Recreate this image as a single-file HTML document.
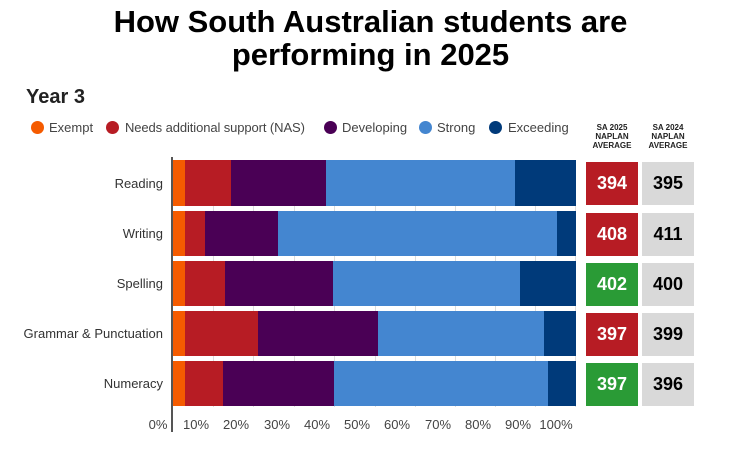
<!DOCTYPE html><html><head><style>
body{margin:0;width:741px;height:450px;background:#fff;font-family:"Liberation Sans",sans-serif;position:relative;overflow:hidden}
.a{position:absolute}
.t{left:0;width:741px;text-align:center;font-weight:bold;font-size:31px;color:#000;line-height:34px}
.lg{top:120px;font-size:13px;color:#444;white-space:nowrap}
.dot{top:121px;width:13px;height:13px;border-radius:50%}
.lab{right:578px;font-size:13px;color:#333;text-align:right}
.seg{position:absolute;top:0;height:100%}
.bx{width:52px;height:43px;font-weight:bold;font-size:18px;display:flex;align-items:center;justify-content:center}
.hd{font-size:8px;font-weight:bold;text-align:center;line-height:9px;color:#222;width:56px}
.tk{top:417px;font-size:13px;color:#444;width:40px;text-align:center}
.g{top:160px;height:247px;width:1px;background:#ddd}
</style></head><body>
<div class="a t" style="top:5px">How South Australian students are</div>
<div class="a t" style="top:38px">performing in 2025</div>
<div class="a" style="left:26px;top:86px;font-size:20px;font-weight:bold;color:#222">Year 3</div>
<div class="a dot" style="left:31px;background:#f55b00"></div><div class="a lg" style="left:49px">Exempt</div>
<div class="a dot" style="left:106px;background:#b71c24"></div><div class="a lg" style="left:125px;letter-spacing:-0.1px">Needs additional support (NAS)</div>
<div class="a dot" style="left:324px;background:#4a0055"></div><div class="a lg" style="left:342px">Developing</div>
<div class="a dot" style="left:419px;background:#4486d0"></div><div class="a lg" style="left:437px">Strong</div>
<div class="a dot" style="left:489px;background:#003a7a"></div><div class="a lg" style="left:508px">Exceeding</div>
<div class="a hd" style="left:584px;top:123px">SA 2025<br>NAPLAN<br>AVERAGE</div>
<div class="a hd" style="left:640px;top:123px">SA 2024<br>NAPLAN<br>AVERAGE</div>
<div class="a g" style="left:213px"></div><div class="a g" style="left:253px"></div><div class="a g" style="left:294px"></div><div class="a g" style="left:334px"></div><div class="a g" style="left:375px"></div><div class="a g" style="left:415px"></div><div class="a g" style="left:455px"></div><div class="a g" style="left:495px"></div><div class="a g" style="left:535px"></div><div class="a g" style="left:575px"></div>
<div class="a" style="left:171px;top:157px;width:2px;height:275px;background:#555"></div>
<div class="a tk" style="left:138px">0%</div>
<div class="a tk" style="left:176px">10%</div>
<div class="a tk" style="left:216px">20%</div>
<div class="a tk" style="left:257px">30%</div>
<div class="a tk" style="left:297px">40%</div>
<div class="a tk" style="left:337px">50%</div>
<div class="a tk" style="left:377px">60%</div>
<div class="a tk" style="left:418px">70%</div>
<div class="a tk" style="left:458px">80%</div>
<div class="a tk" style="left:498px">90%</div>
<div class="a tk" style="left:536px">100%</div>
<div class="a lab" style="top:176px">Reading</div>
<div class="a" style="left:173px;top:160px;width:403px;height:46px">
<div class="seg" style="left:0;width:12px;background:#f55b00"></div><div class="seg" style="left:12px;width:46px;background:#b71c24"></div><div class="seg" style="left:58px;width:95px;background:#4a0055"></div><div class="seg" style="left:153px;width:189px;background:#4486d0"></div><div class="seg" style="left:342px;width:61px;background:#003a7a"></div></div>
<div class="a bx" style="left:586px;top:162px;background:#b71c24;color:#fff">394</div>
<div class="a bx" style="left:642px;top:162px;background:#d9d9d9;color:#000">395</div>
<div class="a lab" style="top:226px">Writing</div>
<div class="a" style="left:173px;top:211px;width:403px;height:45px">
<div class="seg" style="left:0;width:12px;background:#f55b00"></div><div class="seg" style="left:12px;width:20px;background:#b71c24"></div><div class="seg" style="left:32px;width:73px;background:#4a0055"></div><div class="seg" style="left:105px;width:279px;background:#4486d0"></div><div class="seg" style="left:384px;width:19px;background:#003a7a"></div></div>
<div class="a bx" style="left:586px;top:213px;background:#b71c24;color:#fff">408</div>
<div class="a bx" style="left:642px;top:213px;background:#d9d9d9;color:#000">411</div>
<div class="a lab" style="top:276px">Spelling</div>
<div class="a" style="left:173px;top:261px;width:403px;height:45px">
<div class="seg" style="left:0;width:12px;background:#f55b00"></div><div class="seg" style="left:12px;width:40px;background:#b71c24"></div><div class="seg" style="left:52px;width:108px;background:#4a0055"></div><div class="seg" style="left:160px;width:187px;background:#4486d0"></div><div class="seg" style="left:347px;width:56px;background:#003a7a"></div></div>
<div class="a bx" style="left:586px;top:263px;background:#2a9b36;color:#fff">402</div>
<div class="a bx" style="left:642px;top:263px;background:#d9d9d9;color:#000">400</div>
<div class="a lab" style="top:326px">Grammar &amp; Punctuation</div>
<div class="a" style="left:173px;top:311px;width:403px;height:45px">
<div class="seg" style="left:0;width:12px;background:#f55b00"></div><div class="seg" style="left:12px;width:73px;background:#b71c24"></div><div class="seg" style="left:85px;width:120px;background:#4a0055"></div><div class="seg" style="left:205px;width:166px;background:#4486d0"></div><div class="seg" style="left:371px;width:32px;background:#003a7a"></div></div>
<div class="a bx" style="left:586px;top:313px;background:#b71c24;color:#fff">397</div>
<div class="a bx" style="left:642px;top:313px;background:#d9d9d9;color:#000">399</div>
<div class="a lab" style="top:376px">Numeracy</div>
<div class="a" style="left:173px;top:361px;width:403px;height:45px">
<div class="seg" style="left:0;width:12px;background:#f55b00"></div><div class="seg" style="left:12px;width:38px;background:#b71c24"></div><div class="seg" style="left:50px;width:111px;background:#4a0055"></div><div class="seg" style="left:161px;width:214px;background:#4486d0"></div><div class="seg" style="left:375px;width:28px;background:#003a7a"></div></div>
<div class="a bx" style="left:586px;top:363px;background:#2a9b36;color:#fff">397</div>
<div class="a bx" style="left:642px;top:363px;background:#d9d9d9;color:#000">396</div>
</body></html>
